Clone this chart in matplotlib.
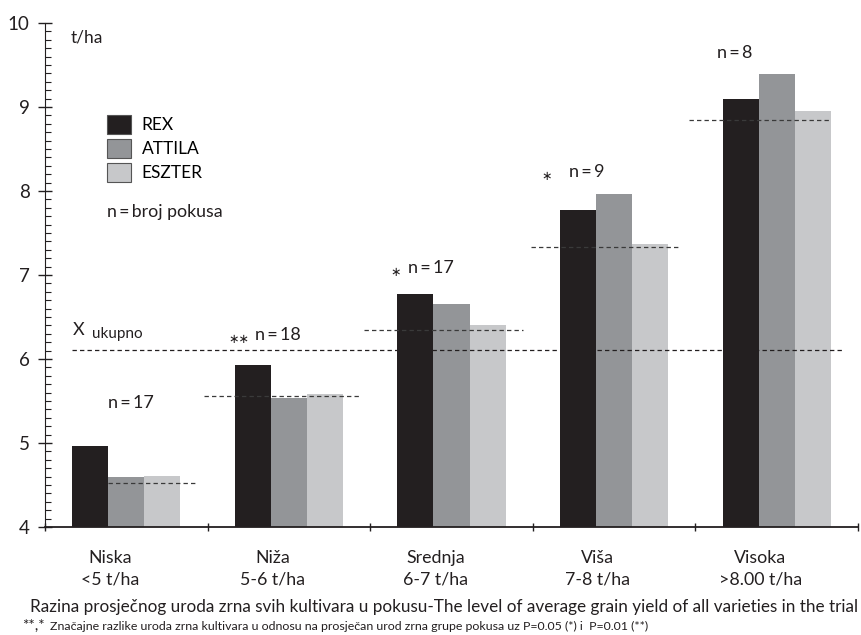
import numpy as np
import matplotlib
matplotlib.use('Agg')
import matplotlib.pyplot as plt
from matplotlib.patches import Patch
from matplotlib.ticker import MultipleLocator

plt.rcParams['font.family'] = ['Lato', 'DejaVu Sans']

# yield per cultivar inside each yield-level group (t/ha)
groups = ['Niska\n<5 t/ha', 'Niža\n5-6 t/ha', 'Srednja\n6-7 t/ha',
          'Viša\n7-8 t/ha', 'Visoka\n>8.00 t/ha']
rex = [4.97, 5.93, 6.77, 7.77, 9.09]
attila = [4.59, 5.54, 6.65, 7.96, 9.39]
eszter = [4.61, 5.58, 6.40, 7.37, 8.95]
group_mean = [4.53, 5.56, 6.35, 7.33, 8.84]
overall_mean = 6.11
n_trials = [17, 18, 17, 9, 8]
signif = ['', '∗∗', '∗', '∗', '']

cultivars = ['REX', 'ATTILA', 'ESZTER']
colors = ['#231f20', '#939598', '#c7c8ca']

fig = plt.figure(figsize=(8.62, 6.35), dpi=100)
ax = fig.add_axes([0.0522, 0.170, 0.9432, 0.7938])

x = np.arange(len(groups))
w = 0.222
for i, (vals, c) in enumerate(zip([rex, attila, eszter], colors)):
    ax.bar(x + (i - 1) * w, np.array(vals) - 4, w, bottom=4, color=c, zorder=2)

# overall average and group averages
ax.hlines(overall_mean, -0.335, 4.415, colors='#231f20', linestyles=(0, (3.5, 2.5)),
          linewidth=0.9, zorder=3)
seg_left = [-0.11, -0.52, -0.54, -0.51, -0.54]
seg_right = [0.44, 0.44, 0.44, 0.41, 0.33]
for i, m in enumerate(group_mean):
    ax.hlines(m, i + seg_left[i], i + seg_right[i], colors='#3a3a3a',
              linestyles=(0, (3.5, 2.5)), linewidth=0.9, zorder=3)

# number of trials (and significance stars) above groups
n_x = [-0.11, -0.21, -0.27, -0.28, -0.365]   # left edge of "n=..." text
n_y = [5.48, 6.29, 7.08, 8.23, 9.64]
star_gap = [0, 0.035, 0.04, 0.10, 0]
for i, n in enumerate(n_trials):
    ax.text(i + n_x[i], n_y[i], f'n\u2009=\u2009{n}', ha='left', va='center',
            fontsize=13, color='#231f20')
    if signif[i]:
        ax.text(i + n_x[i] - star_gap[i], n_y[i] - 0.05, signif[i], ha='right',
                va='center', fontsize=9, color='#231f20')

ax.text(-0.33, 6.34, 'X', fontsize=13, ha='left', va='center', color='#231f20')
ax.text(-0.21, 6.30, 'ukupno', fontsize=11, ha='left', va='center', color='#231f20')

ax.set_xlim(-0.5, 4.45)
ax.set_ylim(4, 10)
ax.set_xticks(np.arange(-0.5, 5.0, 1.0))
ax.set_xticklabels([])
ax.tick_params(axis='x', direction='inout', length=6, width=1, color='#231f20')
ax.yaxis.set_major_locator(MultipleLocator(1))
ax.yaxis.set_minor_locator(MultipleLocator(0.1))
ax.tick_params(axis='y', which='major', direction='inout', length=10, width=1,
               labelsize=13.5, pad=6, colors='#231f20')
ax.tick_params(axis='y', which='minor', direction='in', length=4, width=0.8,
               color='#231f20')
for s in ['top', 'right']:
    ax.spines[s].set_visible(False)
ax.spines['left'].set_color('#231f20')
ax.spines['bottom'].set_color('#231f20')
ax.spines['bottom'].set_linewidth(1.3)

# group labels under the axis
for i, g in enumerate(groups):
    ax.text(i - 0.1, 3.50, g, ha='center', va='center', fontsize=12.8,
            linespacing=1.45, color='#231f20')

ax.text(0.031, 0.972, 't/ha', transform=ax.transAxes, fontsize=12.5,
        ha='left', va='center', color='#231f20')

handles = [Patch(facecolor=c, edgecolor='#555555', linewidth=0.8, label=l)
           for c, l in zip(colors, cultivars)]
ax.legend(handles=handles, loc='upper left', bbox_to_anchor=(0.076, 0.818),
          frameon=False, fontsize=12.5, borderpad=0, borderaxespad=0,
          handlelength=1.4, handleheight=1.3, handletextpad=0.6, labelspacing=0.3)
ax.text(0.076, 0.625, 'n\u2009=\u2009broj pokusa', transform=ax.transAxes,
        fontsize=12.8, ha='left', va='center', color='#231f20')

fig.text(0.9954, 0.044, 'Razina prosječnog uroda zrna svih kultivara u pokusu-'
         'The level of average grain yield of all varieties in the trial',
         ha='right', va='center', fontsize=12.3, color='#231f20')
fig.text(0.026, 0.014, '**,*', ha='left', va='center', fontsize=11, color='#231f20')
fig.text(0.058, 0.014, 'Značajne razlike uroda zrna kultivara u odnosu na prosječan '
         'urod zrna grupe pokusa uz P=0.05 (*) i  P=0.01 (**)',
         ha='left', va='center', fontsize=8.9, color='#231f20')

fig.savefig('out.png', dpi=100)
